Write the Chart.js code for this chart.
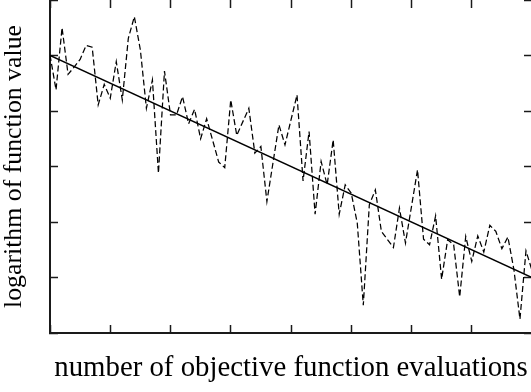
<!DOCTYPE html>
<html>
<head>
<meta charset="utf-8">
<script src="https://cdn.jsdelivr.net/npm/chart.js@4/dist/chart.umd.min.js"></script>
<style>
  html, body { margin: 0; padding: 0; background: #fff; overflow: hidden; }
  #wrap { width: 532px; height: 392px; }
</style>
</head>
<body>
<div id="wrap"><canvas id="c" width="532" height="392"></canvas></div>
<script>
// number of objective function evaluations (axis units)
const evalX = [0,0.1,0.2,0.3,0.4,0.5,0.6,0.7,0.8,0.9,1.0,1.1,1.2,1.3,1.4,1.5,1.6,1.7,1.8,1.9,
  2.0,2.1,2.2,2.3,2.4,2.5,2.6,2.8,2.9,3.0,3.1,3.3,3.4,3.5,3.6,3.8,3.9,4.1,4.2,4.3,
  4.4,4.5,4.6,4.7,4.8,4.9,5.0,5.1,5.2,5.3,5.4,5.5,5.7,5.8,5.9,6.1,6.2,6.3,6.4,6.5,
  6.6,6.7,6.8,6.9,7.0,7.1,7.2,7.3,7.4,7.5,7.6,7.7,7.8,7.9,8.0];
// logarithm of function value
const logF = [5.01,4.38,5.50,4.66,4.79,4.93,5.18,5.15,4.11,4.48,4.23,4.89,4.20,5.31,5.70,5.10,4.05,4.56,2.88,4.72,
  3.93,3.93,4.26,3.77,4.03,3.50,3.86,3.08,2.98,4.20,3.56,4.05,3.24,3.36,2.37,3.75,3.39,4.29,2.74,3.63,
  2.14,3.09,2.67,3.48,2.14,2.67,2.52,1.98,0.50,2.31,2.58,1.83,1.54,2.25,1.62,2.94,1.69,1.59,2.11,0.97,
  1.68,1.59,0.65,1.74,1.29,1.75,1.46,1.94,1.83,1.52,1.73,1.14,0.25,1.48,1.13];
// fitted straight line
const fitX = [0, 8];
const fitY = [5, 1];
// axis ranges / ticks
const xMin = 0, xMax = 8, xStep = 1;
const yMin = 0, yMax = 6, yStep = 1;
const xTitle = 'number of objective function evaluations';
const yTitle = 'logarithm of function value';

const axisColor = '#1a1a1a';
function tickGrid() {
  return { drawOnChartArea: false, drawTicks: true, tickLength: -8, tickWidth: 1.5, tickColor: axisColor };
}

new Chart(document.getElementById('c'), {
  type: 'line',
  data: {
    datasets: [
      {
        data: evalX.map((x, i) => ({ x: x, y: logF[i] })),
        borderColor: '#000', borderWidth: 1.25, borderDash: [6, 3],
        pointRadius: 0, tension: 0, fill: false
      },
      {
        data: fitX.map((x, i) => ({ x: x, y: fitY[i] })),
        borderColor: '#000', borderWidth: 1.4,
        pointRadius: 0, tension: 0, fill: false
      }
    ]
  },
  options: {
    responsive: false,
    animation: false,
    devicePixelRatio: 1,
    layout: { padding: 0 },
    plugins: { legend: { display: false }, tooltip: { enabled: false } },
    scales: {
      x: {
        type: 'linear', position: 'bottom', min: xMin, max: xMax,
        ticks: { display: false, stepSize: xStep },
        grid: tickGrid(),
        border: { display: true, color: axisColor, width: 2 },
        title: { display: true, text: xTitle, color: '#000',
          font: { family: 'Liberation Serif', size: 28.8, lineHeight: 1.2 },
          padding: { top: 0, bottom: 6 } },
        afterFit: s => { s.height = 59; }
      },
      x2: {
        type: 'linear', axis: 'x', position: 'top', min: xMin, max: xMax,
        ticks: { display: false, stepSize: xStep },
        grid: tickGrid(),
        border: { display: false },
        afterFit: s => { s.height = 0; }
      },
      y: {
        type: 'linear', position: 'left', min: yMin, max: yMax,
        ticks: { display: false, stepSize: yStep },
        grid: tickGrid(),
        border: { display: true, color: axisColor, width: 2 },
        title: { display: true, text: yTitle, color: '#000',
          font: { family: 'Liberation Serif', size: 25.8, lineHeight: 1 },
          padding: { top: 1, bottom: 0 } },
        afterFit: s => { s.width = 50; }
      },
      y2: {
        type: 'linear', axis: 'y', position: 'right', min: yMin, max: yMax,
        ticks: { display: false, stepSize: yStep },
        grid: tickGrid(),
        border: { display: false },
        afterFit: s => { s.width = 0; }
      }
    }
  }
});
</script>
</body>
</html>
